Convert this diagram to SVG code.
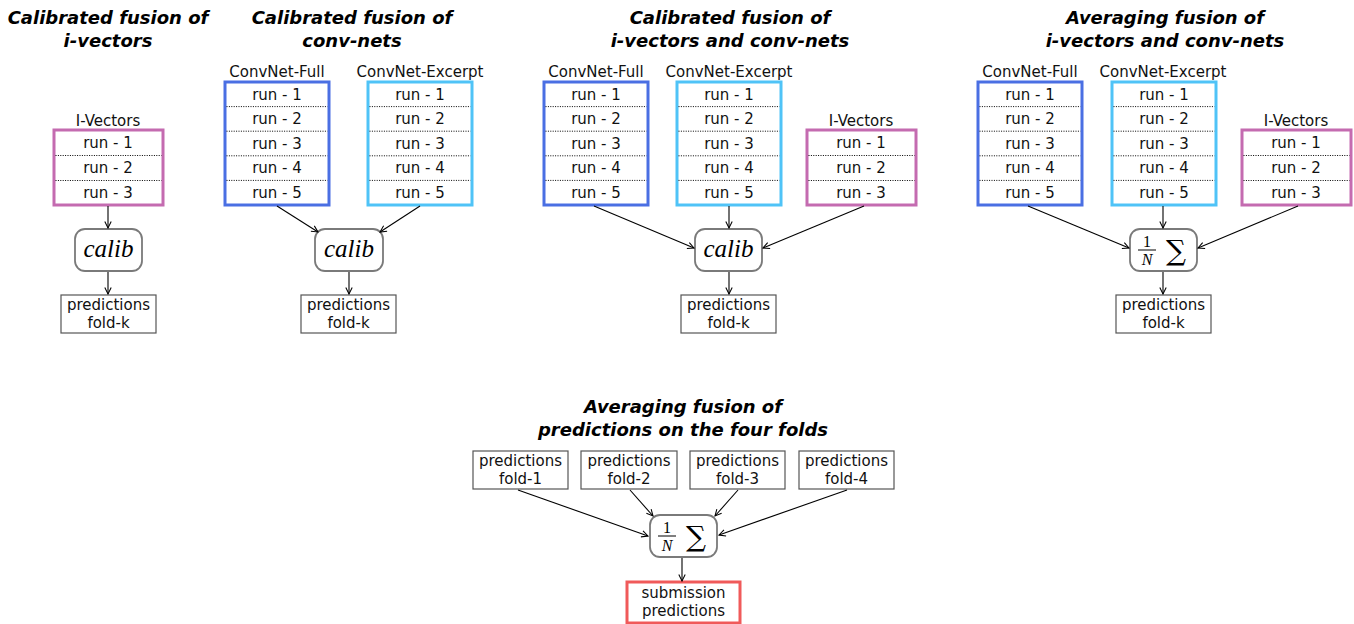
<svg xmlns="http://www.w3.org/2000/svg" width="1354" height="624" viewBox="0 0 1354 624">
<style>
.title{font-family:"DejaVu Sans",sans-serif;font-size:18px;font-weight:bold;font-style:italic;text-anchor:middle;fill:#000}
.lbl{font-family:"DejaVu Sans",sans-serif;font-size:15px;text-anchor:middle;fill:#111}
.run{font-family:"DejaVu Sans",sans-serif;font-size:15px;text-anchor:middle;fill:#111}
.full{fill:#fff;stroke:#4a6fe3;stroke-width:3}
.exc{fill:#fff;stroke:#4fc3f7;stroke-width:3}
.ivec{fill:#fff;stroke:#c46bb0;stroke-width:3}
.dot{stroke:#000;stroke-width:1;stroke-dasharray:1 1.4}
.op{fill:#fff;stroke:#7a7a7a;stroke-width:1.8}
.pred{fill:#fff;stroke:#555;stroke-width:1.2}
.sub{fill:#fff;stroke:#f05a5a;stroke-width:3}
.calib{font-family:"Liberation Serif",serif;font-style:italic;font-size:25px;text-anchor:middle;fill:#000}
.math{font-family:"Liberation Serif",serif;font-size:16px;text-anchor:middle;fill:#000}
.sig{font-family:"DejaVu Serif",serif;font-size:28px;text-anchor:middle;fill:#000}
.conn line{stroke:#000;stroke-width:1.1;marker-end:url(#ah)}
</style>
<defs>
<marker id="ah" viewBox="0 0 10 10" refX="9" refY="5" markerWidth="8" markerHeight="8" markerUnits="userSpaceOnUse" orient="auto">
<path d="M1,1 L9,5 L1,9" fill="none" stroke="#000" stroke-width="1.3"/>
</marker>
</defs>
<rect width="1354" height="624" fill="#fff"/>

<!-- Titles -->
<g id="titles">
<text class="title" x="108" y="24">Calibrated fusion of</text>
<text class="title" x="108" y="47">i-vectors</text>
<text class="title" x="352" y="24">Calibrated fusion of</text>
<text class="title" x="352" y="47">conv-nets</text>
<text class="title" x="730" y="24">Calibrated fusion of</text>
<text class="title" x="730" y="47">i-vectors and conv-nets</text>
<text class="title" x="1165" y="24">Averaging fusion of</text>
<text class="title" x="1165" y="47">i-vectors and conv-nets</text>
<text class="title" x="683" y="413">Averaging fusion of</text>
<text class="title" x="683" y="436">predictions on the four folds</text>
</g>

<!-- Panel 1 -->
<g id="p1-ivec">
<text class="lbl" x="108" y="126">I-Vectors</text>
<rect class="ivec" x="54" y="130" width="109" height="75"/>
<line class="dot" x1="55.5" y1="155.5" x2="161.5" y2="155.5"/>
<line class="dot" x1="55.5" y1="180.5" x2="161.5" y2="180.5"/>
<text class="run" x="108" y="148">run - 1</text>
<text class="run" x="108" y="173">run - 2</text>
<text class="run" x="108" y="198">run - 3</text>
</g>
<g id="p1-calib">
<rect class="op" x="75" y="229" width="67" height="42" rx="10"/>
<text class="calib" x="108.5" y="257">calib</text>
</g>
<g id="p1-pred">
<rect class="pred" x="61" y="295" width="95" height="38"/>
<text class="lbl" x="108.5" y="310">predictions</text>
<text class="lbl" x="108.5" y="328">fold-k</text>
</g>

<!-- Panel 2 -->
<g id="p2-full">
<text class="lbl" x="277" y="77">ConvNet-Full</text>
<rect class="full" x="225" y="82" width="104" height="123"/>
<line class="dot" x1="226.5" y1="106.6" x2="327.5" y2="106.6"/>
<line class="dot" x1="226.5" y1="131.2" x2="327.5" y2="131.2"/>
<line class="dot" x1="226.5" y1="155.8" x2="327.5" y2="155.8"/>
<line class="dot" x1="226.5" y1="180.4" x2="327.5" y2="180.4"/>
<text class="run" x="277" y="99.5">run - 1</text>
<text class="run" x="277" y="124">run - 2</text>
<text class="run" x="277" y="148.6">run - 3</text>
<text class="run" x="277" y="173.2">run - 4</text>
<text class="run" x="277" y="197.8">run - 5</text>
</g>
<g id="p2-exc">
<text class="lbl" x="420" y="77">ConvNet-Excerpt</text>
<rect class="exc" x="368" y="82" width="104" height="123"/>
<line class="dot" x1="369.5" y1="106.6" x2="470.5" y2="106.6"/>
<line class="dot" x1="369.5" y1="131.2" x2="470.5" y2="131.2"/>
<line class="dot" x1="369.5" y1="155.8" x2="470.5" y2="155.8"/>
<line class="dot" x1="369.5" y1="180.4" x2="470.5" y2="180.4"/>
<text class="run" x="420" y="99.5">run - 1</text>
<text class="run" x="420" y="124">run - 2</text>
<text class="run" x="420" y="148.6">run - 3</text>
<text class="run" x="420" y="173.2">run - 4</text>
<text class="run" x="420" y="197.8">run - 5</text>
</g>
<g id="p2-calib">
<rect class="op" x="315" y="229" width="68" height="42" rx="10"/>
<text class="calib" x="349" y="257">calib</text>
</g>
<g id="p2-pred">
<rect class="pred" x="301" y="295" width="95" height="38"/>
<text class="lbl" x="348.5" y="310">predictions</text>
<text class="lbl" x="348.5" y="328">fold-k</text>
</g>

<!-- Panel 3 -->
<g id="p3-full">
<text class="lbl" x="596" y="77">ConvNet-Full</text>
<rect class="full" x="544" y="82" width="104" height="123"/>
<line class="dot" x1="545.5" y1="106.6" x2="646.5" y2="106.6"/>
<line class="dot" x1="545.5" y1="131.2" x2="646.5" y2="131.2"/>
<line class="dot" x1="545.5" y1="155.8" x2="646.5" y2="155.8"/>
<line class="dot" x1="545.5" y1="180.4" x2="646.5" y2="180.4"/>
<text class="run" x="596" y="99.5">run - 1</text>
<text class="run" x="596" y="124">run - 2</text>
<text class="run" x="596" y="148.6">run - 3</text>
<text class="run" x="596" y="173.2">run - 4</text>
<text class="run" x="596" y="197.8">run - 5</text>
</g>
<g id="p3-exc">
<text class="lbl" x="729" y="77">ConvNet-Excerpt</text>
<rect class="exc" x="677" y="82" width="104" height="123"/>
<line class="dot" x1="678.5" y1="106.6" x2="779.5" y2="106.6"/>
<line class="dot" x1="678.5" y1="131.2" x2="779.5" y2="131.2"/>
<line class="dot" x1="678.5" y1="155.8" x2="779.5" y2="155.8"/>
<line class="dot" x1="678.5" y1="180.4" x2="779.5" y2="180.4"/>
<text class="run" x="729" y="99.5">run - 1</text>
<text class="run" x="729" y="124">run - 2</text>
<text class="run" x="729" y="148.6">run - 3</text>
<text class="run" x="729" y="173.2">run - 4</text>
<text class="run" x="729" y="197.8">run - 5</text>
</g>
<g id="p3-ivec">
<text class="lbl" x="861" y="126">I-Vectors</text>
<rect class="ivec" x="807" y="130" width="109" height="75"/>
<line class="dot" x1="808.5" y1="155.5" x2="914.5" y2="155.5"/>
<line class="dot" x1="808.5" y1="180.5" x2="914.5" y2="180.5"/>
<text class="run" x="861" y="148">run - 1</text>
<text class="run" x="861" y="173">run - 2</text>
<text class="run" x="861" y="198">run - 3</text>
</g>
<g id="p3-calib">
<rect class="op" x="695" y="229" width="67" height="42" rx="10"/>
<text class="calib" x="728.5" y="257">calib</text>
</g>
<g id="p3-pred">
<rect class="pred" x="681" y="295" width="95" height="38"/>
<text class="lbl" x="728.5" y="310">predictions</text>
<text class="lbl" x="728.5" y="328">fold-k</text>
</g>

<!-- Panel 4 -->
<g id="p4-full">
<text class="lbl" x="1030" y="77">ConvNet-Full</text>
<rect class="full" x="978" y="82" width="104" height="123"/>
<line class="dot" x1="979.5" y1="106.6" x2="1080.5" y2="106.6"/>
<line class="dot" x1="979.5" y1="131.2" x2="1080.5" y2="131.2"/>
<line class="dot" x1="979.5" y1="155.8" x2="1080.5" y2="155.8"/>
<line class="dot" x1="979.5" y1="180.4" x2="1080.5" y2="180.4"/>
<text class="run" x="1030" y="99.5">run - 1</text>
<text class="run" x="1030" y="124">run - 2</text>
<text class="run" x="1030" y="148.6">run - 3</text>
<text class="run" x="1030" y="173.2">run - 4</text>
<text class="run" x="1030" y="197.8">run - 5</text>
</g>
<g id="p4-exc">
<text class="lbl" x="1163" y="77">ConvNet-Excerpt</text>
<rect class="exc" x="1112" y="82" width="104" height="123"/>
<line class="dot" x1="1113.5" y1="106.6" x2="1214.5" y2="106.6"/>
<line class="dot" x1="1113.5" y1="131.2" x2="1214.5" y2="131.2"/>
<line class="dot" x1="1113.5" y1="155.8" x2="1214.5" y2="155.8"/>
<line class="dot" x1="1113.5" y1="180.4" x2="1214.5" y2="180.4"/>
<text class="run" x="1164" y="99.5">run - 1</text>
<text class="run" x="1164" y="124">run - 2</text>
<text class="run" x="1164" y="148.6">run - 3</text>
<text class="run" x="1164" y="173.2">run - 4</text>
<text class="run" x="1164" y="197.8">run - 5</text>
</g>
<g id="p4-ivec">
<text class="lbl" x="1296" y="126">I-Vectors</text>
<rect class="ivec" x="1242" y="130" width="109" height="75"/>
<line class="dot" x1="1243.5" y1="155.5" x2="1349.5" y2="155.5"/>
<line class="dot" x1="1243.5" y1="180.5" x2="1349.5" y2="180.5"/>
<text class="run" x="1296" y="148">run - 1</text>
<text class="run" x="1296" y="173">run - 2</text>
<text class="run" x="1296" y="198">run - 3</text>
</g>
<g id="p4-avg">
<rect class="op" x="1130" y="229" width="67" height="42" rx="10"/>
<text class="math" x="1147" y="247">1</text>
<line x1="1138" y1="250" x2="1156" y2="250" stroke="#000" stroke-width="1"/>
<text class="math" x="1147" y="265" font-style="italic">N</text>
<text class="sig" x="1176" y="260">∑</text>
</g>
<g id="p4-pred">
<rect class="pred" x="1116" y="295" width="95" height="38"/>
<text class="lbl" x="1163.5" y="310">predictions</text>
<text class="lbl" x="1163.5" y="328">fold-k</text>
</g>

<!-- Bottom panel -->
<g id="f1">
<rect class="pred" x="473" y="451" width="95" height="38"/>
<text class="lbl" x="520.5" y="466">predictions</text>
<text class="lbl" x="520.5" y="484">fold-1</text>
</g>
<g id="f2">
<rect class="pred" x="581" y="451" width="96" height="38"/>
<text class="lbl" x="629" y="466">predictions</text>
<text class="lbl" x="629" y="484">fold-2</text>
</g>
<g id="f3">
<rect class="pred" x="690" y="451" width="95" height="38"/>
<text class="lbl" x="737.5" y="466">predictions</text>
<text class="lbl" x="737.5" y="484">fold-3</text>
</g>
<g id="f4">
<rect class="pred" x="799" y="451" width="95" height="38"/>
<text class="lbl" x="846.5" y="466">predictions</text>
<text class="lbl" x="846.5" y="484">fold-4</text>
</g>
<g id="final-avg">
<rect class="op" x="650" y="515" width="67" height="42" rx="10"/>
<text class="math" x="667" y="533">1</text>
<line x1="658" y1="536" x2="676" y2="536" stroke="#000" stroke-width="1"/>
<text class="math" x="667" y="551" font-style="italic">N</text>
<text class="sig" x="696" y="546">∑</text>
</g>
<g id="submission">
<rect class="sub" x="627" y="582" width="113" height="41"/>
<text class="lbl" x="683.5" y="598">submission</text>
<text class="lbl" x="683.5" y="616">predictions</text>
</g>

<!-- Connectors -->
<g id="connectors" class="conn">
<line x1="108" y1="206" x2="108" y2="228"/>
<line x1="108" y1="272" x2="108" y2="294"/>
<line x1="277" y1="206" x2="318" y2="232"/>
<line x1="420" y1="206" x2="380" y2="232"/>
<line x1="349" y1="272" x2="349" y2="294"/>
<line x1="594" y1="206" x2="694" y2="248"/>
<line x1="729" y1="206" x2="729" y2="228"/>
<line x1="864" y1="206" x2="763" y2="248"/>
<line x1="729" y1="272" x2="729" y2="294"/>
<line x1="1028" y1="206" x2="1129" y2="248"/>
<line x1="1163" y1="206" x2="1163" y2="228"/>
<line x1="1298" y1="206" x2="1198" y2="248"/>
<line x1="1163" y1="272" x2="1163" y2="294"/>
<line x1="518" y1="490" x2="648" y2="536"/>
<line x1="630" y1="490" x2="653" y2="516"/>
<line x1="738" y1="490" x2="715" y2="516"/>
<line x1="847" y1="490" x2="719" y2="535"/>
<line x1="682" y1="558" x2="682" y2="581"/>
</g>
</svg>
